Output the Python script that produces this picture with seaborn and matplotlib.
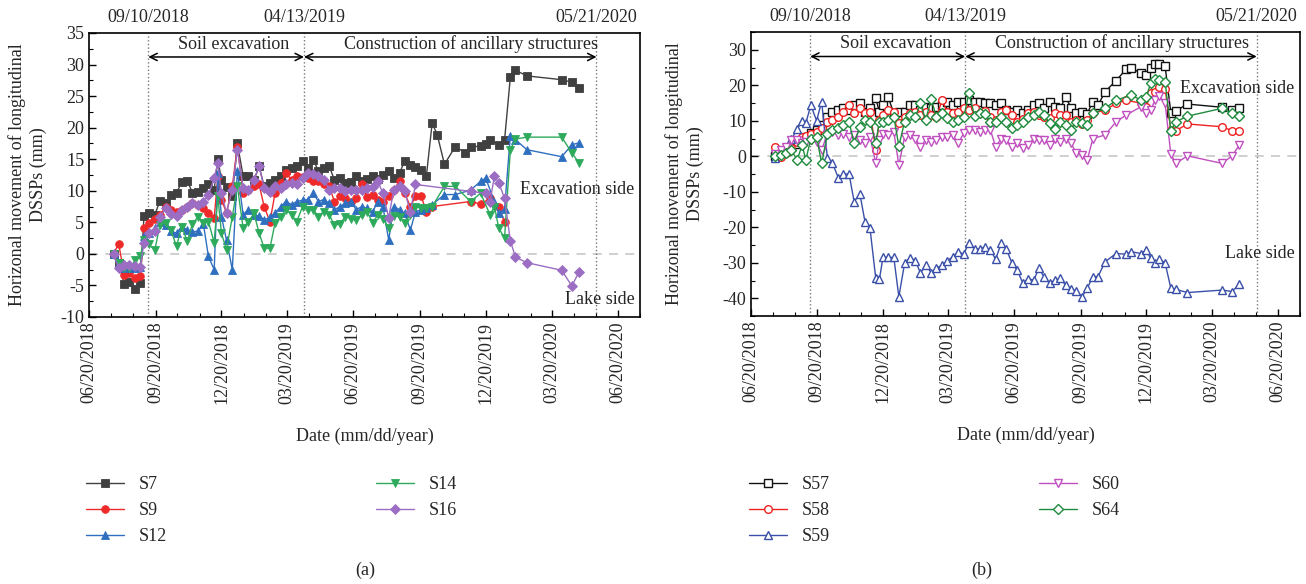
import numpy as np
import pandas as pd
import matplotlib
matplotlib.use("Agg")
import matplotlib.pyplot as plt
import matplotlib.dates as mdates
from matplotlib.transforms import blended_transform_factory
import seaborn as sns

nan = np.nan

# monitoring dates (dense phase, then the sparse late readings)
dense_dates = [
    "07/24/2018", "07/31/2018", "08/08/2018", "08/15/2018", "08/23/2018", "08/30/2018",
    "09/04/2018", "09/11/2018", "09/19/2018", "09/26/2018", "10/04/2018", "10/11/2018",
    "10/19/2018", "10/26/2018", "11/03/2018", "11/10/2018", "11/18/2018", "11/25/2018",
    "12/02/2018", "12/10/2018", "12/15/2018", "12/20/2018", "12/27/2018", "01/04/2019",
    "01/11/2019", "01/19/2019", "01/26/2019", "02/03/2019", "02/10/2019", "02/17/2019",
    "02/25/2019", "03/04/2019", "03/12/2019", "03/19/2019", "03/27/2019", "04/03/2019",
    "04/11/2019", "04/18/2019", "04/26/2019", "05/03/2019", "05/10/2019", "05/18/2019",
    "05/25/2019", "06/02/2019", "06/09/2019", "06/17/2019", "06/24/2019", "07/02/2019",
    "07/09/2019", "07/17/2019", "07/24/2019", "07/31/2019", "08/08/2019", "08/15/2019",
    "08/23/2019", "08/30/2019", "09/07/2019", "09/14/2019", "09/22/2019", "09/29/2019",
    "10/07/2019",
]
late_dates = [
    "10/14/2019", "10/24/2019", "11/08/2019", "11/22/2019", "11/29/2019", "12/13/2019",
    "12/20/2019", "12/26/2019", "01/01/2020", "01/07/2020", "01/15/2020", "01/23/2020",
    "01/30/2020", "02/15/2020", "04/03/2020", "04/17/2020", "04/27/2020",
]

# panel (a) sensors
s7 = [0, -1.5, -4.8, -4.4, -5.6, -4.6, 6.0, 6.4, 6.2, 8.4,
      8.0, 9.3, 9.6, 11.4, 11.5, 9.7, 9.8, 10.5, 11.0, 10.2,
      15.0, 11.7, 10.6, 9.1, 17.5, 12.3, 12.4, 11.7, 13.9, 10.7,
      11.3, 11.7, 12.3, 13.3, 13.6, 13.9, 14.7, 13.6, 14.9, 13.1,
      13.6, 13.9, 11.7, 12.0, 11.2, 11.4, 12.3, 11.6, 11.9, 12.3,
      11.8, 12.5, 13.1, 12.0, 12.8, 14.7, 14.1, 13.8, 13.3, 12.3,
      20.7,
      18.9, 14.2, 17.0, 16.0, 16.9, 17.1, 17.4, 18.1, nan, 17.3, 18.0,
      28.0, 29.1, 28.2, 27.6, 27.2, 26.3]
s9 = [0, 1.6, -3.3, -3.1, -3.9, -3.5, 4.1, 4.9, 5.6, 6.2,
      7.4, 7.0, 6.6, 7.0, 7.4, 8.0, 7.8, 7.2, 6.4, 5.7,
      12.3, 8.6, 6.5, 10.7, 17.0, 9.6, 10.2, 10.7, 11.0, 7.5,
      5.1, 9.6, 11.2, 12.8, 11.7, 12.3, 12.2, 12.0, 11.6, 11.6,
      11.1, 10.7, 8.3, 9.1, 8.8, 8.3, 8.8, 11.0, 9.0, 9.4,
      8.6, 8.3, 9.1, 10.2, 11.5, 9.6, 7.5, 9.1, 9.1, 6.7,
      7.5,
      nan, nan, nan, nan, 8.3, 7.9, nan, 8.8, nan, 7.5, 5.0,
      nan, nan, nan, nan, nan, nan]
s12 = [0, -1.5, -2.3, -2.3, -2.2, -2.0, 2.8, 3.3, 4.1, 5.1,
       4.5, 3.6, 3.3, 4.3, 3.8, 3.5, 3.6, 4.8, -0.4, -2.5,
       12.8, 5.9, 2.2, -2.5, 13.1, 6.2, 7.0, 6.2, 6.0, 5.4,
       5.8, 6.5, 7.5, 8.3, 7.8, 8.3, 8.5, 8.6, 9.6, 8.3,
       8.6, 8.0, 7.0, 7.5, 8.0, 8.3, 7.0, 7.5, 7.2, 6.7,
       8.3, 7.5, 2.2, 7.5, 7.0, 6.4, 3.8, 6.7, 7.0, 7.2,
       7.8,
       nan, 9.4, 9.4, nan, 10.1, 11.5, 12.0, nan, 8.3, 6.4, 7.1,
       18.7, 18.1, 16.5, 15.4, 17.3, 17.6]
s14 = [0, -1.5, -2.2, -2.3, -1.0, -0.3, 2.2, 1.5, 0.6, 4.6,
       4.9, 3.8, 1.2, 4.3, 2.0, 4.8, 5.9, 4.9, 5.1, 1.8,
       9.1, 3.3, 0.6, 5.9, 10.7, 4.1, 5.1, 6.4, 3.3, 0.9,
       0.9, 4.9, 5.9, 7.0, 6.2, 5.1, 7.5, 7.0, 7.0, 5.9,
       6.7, 6.2, 4.5, 4.8, 5.9, 5.6, 5.3, 6.2, 6.7, 4.9,
       6.2, 5.6, 4.1, 6.0, 5.9, 4.9, 6.2, 7.5, 7.2, 7.2,
       7.5,
       nan, 10.7, 10.7, nan, 8.3, 9.6, nan, 6.2, 7.5, 4.1, 2.5,
       16.5, 18.2, 18.5, 18.5, 16.0, 14.4]
s16 = [0, -2.3, -1.7, -1.8, -1.9, -2.0, 1.7, 3.3, 3.6, 5.8,
       7.2, 6.3, 6.0, 6.9, 7.5, 8.0, 7.8, 8.2, 9.3, 12.0,
       14.4, 9.6, 6.5, 10.2, 16.5, 10.5, 10.2, 11.7, 13.9, 10.5,
       9.8, 10.7, 10.5, 11.0, 11.2, 11.0, 12.0, 12.8, 12.7, 12.3,
       11.7, 10.2, 10.4, 10.5, 9.9, 10.2, 10.2, 10.2, 10.4, 10.6,
       11.5, 9.6, 5.7, 10.2, 10.7, 9.9, 6.7, 11.0, nan, nan,
       nan,
       nan, nan, nan, nan, 9.9, nan, 9.6, 8.3, 12.3, 11.3, 8.8,
       2.1, -0.5, -1.4, -2.6, -5.1, -2.8]

# panel (b) sensors
s57 = [0, 0.8, 1.5, 2.5, 3.5, 4.6, 5.3, 6.5, 7.4, 8.8,
       11.1, 12.5, 13.0, 13.5, 13.0, 14.4, 14.9, 12.5, 13.5, 16.3,
       12.5, 14.4, 16.8, 12.1, 12.5, 12.5, 14.4, 14.4, 13.0, 14.0,
       13.5, 14.0, 14.4, 15.4, 14.4, 15.4, 15.4, 15.8, 15.4, 15.4,
       15.0, 14.9, 14.4, 14.9, 13.0, 12.5, 13.0, 12.1, 13.0, 14.4,
       14.9, 13.5, 15.4, 14.0, 13.5, 16.8, 13.5, 12.1, 12.5, 12.0,
       15.4,
       14.4, 18.2, 21.3, 24.5, 24.8, 23.4, 22.9, 24.8, 26.0, 26.0, 25.4,
       12.3, 12.8, 14.7, 13.8, 13.0, 13.5]
s58 = [2.5, -0.1, 0.8, 2.2, 4.1, 5.5, 5.8, 6.3, 6.9, 7.9,
       9.7, 10.2, 11.1, 12.5, 14.4, 12.1, 13.5, 12.1, 12.5, 1.8,
       10.2, 11.6, 13.0, 12.5, 9.3, 11.1, 12.1, 12.5, 11.6, 12.5,
       11.6, 11.1, 15.8, 12.5, 12.1, 12.5, 13.5, 13.0, 13.5, 12.1,
       12.8, 11.0, 10.2, 12.5, 13.0, 11.6, 9.7, 10.5, 12.1, 12.5,
       11.6, 11.0, 10.7, 12.1, 11.6, 11.6, 9.7, 10.2, 9.1, 10.2,
       12.1,
       nan, 13.0, 14.9, 15.8, nan, 14.9, 14.0, 17.7, 18.2, 19.6, 19.0,
       7.4, 7.2, 9.1, 8.3, 7.2, 7.2]
s59 = [-0.5, 1.3, 2.7, 4.8, 7.6, 10.0, 9.3, 14.4, 10.0, 15.4,
       -0.6, -2.0, -6.0, -5.0, -5.0, -12.8, -10.6, -18.4, -20.3, -34.4,
       -34.7, -28.5, -28.5, -28.5, -39.6, -30.1, -28.6, -29.4, -33.0, -30.6,
       -32.8, -31.5, -30.7, -29.4, -28.3, -27.0, -27.5, -24.5, -26.0, -26.2,
       -25.5, -26.4, -29.0, -24.5, -26.2, -30.2, -32.1, -35.8, -34.5, -34.9,
       -31.6, -33.9, -35.8, -34.9, -34.4, -36.3, -37.5, -37.9, -39.6, -37.2,
       -33.9,
       -33.9, -29.7, -27.4, -27.6, -26.9, -27.4, -26.4, -28.8, -30.2, -29.0, -30.0,
       -37.2, -37.5, -38.4, -37.7, -38.1, -36.0]
s60 = [0.5, 1.8, 2.7, 4.6, 4.5, 3.6, 4.0, 4.6, 4.1, 1.8,
       6.4, 6.9, 6.0, 6.4, 5.5, 6.0, 4.6, 3.6, 5.5, -2.0,
       4.6, 6.4, 6.0, 6.9, -2.5, 5.5, 6.0, 5.0, 2.7, 4.6,
       4.1, 4.6, 5.3, 5.5, 6.0, 3.6, 6.5, 7.4, 7.4, 6.9,
       7.4, 7.4, 2.7, 5.0, 4.6, 2.7, 3.6, 2.2, 3.2, 5.0,
       4.6, 4.6, 3.2, 5.0, 4.1, 5.0, 3.6, 0.8, 0.4, -1.1,
       5.0,
       nan, 6.0, 9.7, 11.6, nan, 14.0, 12.1, 13.0, 15.8, 17.0, 14.9,
       0.6, -2.0, 0.1, -2.0, 0.1, 3.2]
s64 = [0, 0.3, 0.8, 1.8, -1.1, 3.2, -1.1, 5.0, 5.5, -2.0,
       6.2, 7.4, 7.9, 8.8, 9.7, 3.6, 8.3, 10.2, 9.7, 3.8,
       9.7, 9.7, 10.2, 11.1, 2.9, 9.7, 11.6, 11.1, 15.1, 10.2,
       16.0, 11.1, 12.1, 10.7, 9.7, 10.2, 11.1, 17.7, 11.4, 12.1,
       12.0, 9.7, 9.7, 11.1, 9.7, 8.0, 8.8, 9.7, 11.1, 11.6,
       12.5, 11.6, 9.3, 7.8, 9.7, 8.8, 7.4, 9.7, 9.3, 8.8,
       12.1,
       nan, 13.5, 15.8, nan, 17.2, 15.8, 16.8, 20.5, 21.9, 21.5, 21.0,
       7.2, 9.7, 11.3, 13.5, 12.1, 11.4]

phase_dates = ["09/10/2018", "04/13/2019", "05/21/2020"]
phase_names = ["Soil excavation", "Construction of ancillary structures"]

sns.set_theme(style="ticks")
plt.rcParams["font.family"] = ["Liberation Serif", "DejaVu Serif"]
plt.rcParams["axes.unicode_minus"] = False

dates = pd.to_datetime(dense_dates + late_dates, format="%m/%d/%Y")
phases = pd.to_datetime(phase_dates, format="%m/%d/%Y")


def to_long(series):
    df = pd.DataFrame(series, index=dates)
    df.index.name = "date"
    return df.reset_index().melt(id_vars="date", var_name="sensor", value_name="disp").dropna()


long_a = to_long({"S7": s7, "S9": s9, "S12": s12, "S14": s14, "S16": s16})
long_b = to_long({"S57": s57, "S58": s58, "S59": s59, "S60": s60, "S64": s64})

styles_a = {"S7": ("#404040", "s"), "S9": ("#ee2a2a", "o"), "S12": ("#2f6fc0", "^"),
            "S14": ("#2eaa5c", "v"), "S16": ("#9b6dc3", "D")}
styles_b = {"S57": ("#111111", "s"), "S58": ("#ee2222", "o"), "S59": ("#3a4fa8", "^"),
            "S60": ("#c050c0", "v"), "S64": ("#1e8c3c", "D")}

fig = plt.figure(figsize=(13.06, 5.84), dpi=100)
ax_a = fig.add_axes([0.0681, 0.4572, 0.4219, 0.4863])
ax_b = fig.add_axes([0.5750, 0.4589, 0.4204, 0.4863])

fs = 13


def draw(ax, table, styles, filled, ylim, ymajor, yminor, arrow_y, text_y, exc_y, lake_y,
         leg_x, cap_x, cap, build_date):
    for name, (color, marker) in styles.items():
        part = table[table["sensor"] == name]
        ms = 4.8 if marker == "D" else 5.5
        sns.lineplot(data=part, x="date", y="disp", ax=ax, color=color, marker=marker,
                     markersize=ms if filled else 5.5, linewidth=1, label=name,
                     markeredgecolor=color,
                     markerfacecolor=color if filled else "white",
                     markeredgewidth=0.6 if filled else 1.0, errorbar=None)

    ax.axhline(0, color="#cccccc", ls=(0, (5, 4)), lw=1.3, zorder=0)
    trans = blended_transform_factory(ax.transData, ax.transAxes)
    for d, lab in zip(phases, phase_dates):
        ax.axvline(d, color="#777777", ls=":", lw=1, zorder=0)
        ax.text(mdates.date2num(d), 1.053, lab, transform=trans, ha="center", va="center",
                fontsize=fs)

    for i, name in enumerate(phase_names):
        x1, x2 = mdates.date2num(phases[i]), mdates.date2num(phases[i + 1])
        ax.annotate("", xy=(x2, arrow_y), xytext=(x1, arrow_y),
                    arrowprops=dict(arrowstyle="<->", color="black", lw=1.1,
                                    shrinkA=0, shrinkB=0, mutation_scale=13))
    ax.text(mdates.date2num(pd.Timestamp("2019-01-06")), text_y, phase_names[0],
            ha="center", va="center", fontsize=fs)
    ax.text(mdates.date2num(pd.Timestamp(build_date)), text_y, phase_names[1],
            ha="center", va="center", fontsize=fs)

    side = blended_transform_factory(ax.transAxes, ax.transData)
    ax.text(0.99, exc_y, "Excavation side", transform=side, ha="right", va="center", fontsize=fs)
    ax.text(0.99, lake_y, "Lake side", transform=side, ha="right", va="center", fontsize=fs)

    ax.set_xlim(pd.Timestamp("2018-06-20"), pd.Timestamp("2020-07-20"))
    ax.set_ylim(*ylim)
    ax.xaxis.set_major_locator(mdates.MonthLocator(bymonth=[3, 6, 9, 12], bymonthday=20))
    ax.xaxis.set_minor_locator(mdates.MonthLocator(bymonthday=20))
    ax.xaxis.set_major_formatter(mdates.DateFormatter("%m/%d/%Y"))
    ax.yaxis.set_major_locator(plt.MultipleLocator(ymajor))
    ax.yaxis.set_minor_locator(plt.MultipleLocator(yminor))
    ax.tick_params(axis="both", which="both", direction="in", top=False, right=False,
                   labelsize=fs, color="black")
    ax.tick_params(axis="both", which="major", length=5, width=1)
    ax.tick_params(axis="both", which="minor", length=3, width=0.8)
    ax.tick_params(axis="x", labelrotation=90)
    for sp in ax.spines.values():
        sp.set_color("black")
        sp.set_linewidth(1.2)

    ax.set_xlabel("Date (mm/dd/year)", fontsize=fs)
    ax.xaxis.set_label_coords(0.5, -0.39)
    ax.set_ylabel("Horizonal movement of longitudinal\nDSSPs (mm)", fontsize=fs, linespacing=1.25)

    handles, labels = ax.get_legend_handles_labels()
    ax.get_legend().remove()
    fig.legend(handles, labels, loc="upper left", bbox_to_anchor=(leg_x, 0.185), ncol=2,
               frameon=False, fontsize=fs, handlelength=2.1, handletextpad=0.8,
               columnspacing=11.6, labelspacing=0.5, borderpad=0, borderaxespad=0)
    fig.text(cap_x, 1 - 570 / 584, cap, ha="center", va="center", fontsize=fs)


draw(ax_a, long_a, styles_a, True, (-10, 35), 5, 2.5, 31.2, 33.2, 10.2, -7.2,
     0.066, 0.2795, "(a)", "2019-11-30")
ax_a.yaxis.set_label_coords(-0.077, 0.5)
draw(ax_b, long_b, styles_b, False, (-45, 35), 10, 5, 28.1, 31.8, 19.0, -27.4,
     0.5735, 0.752, "(b)", "2019-11-16")
ax_b.yaxis.set_label_coords(-0.086, 0.5)

fig.savefig("out.png", dpi=100)
